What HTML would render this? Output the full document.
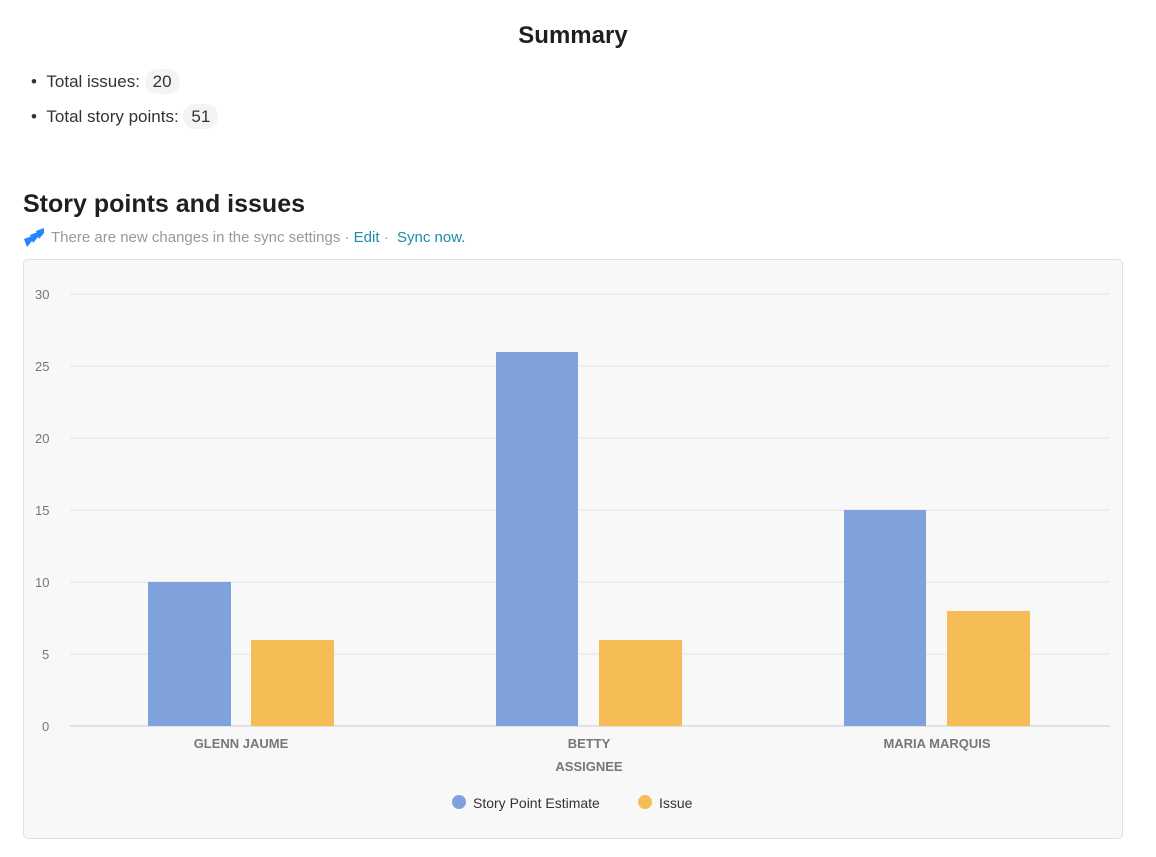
<!DOCTYPE html>
<html><head><style>
body{margin:0;width:1156px;height:857px;background:#fff;font-family:"Liberation Sans",sans-serif;position:relative;overflow:hidden}
.a{position:absolute;white-space:nowrap}
.pill{background:#f4f4f4;border-radius:12px;padding:3px 8px}
</style></head><body>
<div class="a" style="left:0;width:1146px;top:22px;text-align:center;font-size:24px;font-weight:bold;color:#1f1f1f">Summary</div>
<div class="a" style="left:31px;top:72px;font-size:17px;color:#333">•&nbsp;&nbsp;Total issues: <span class="pill">20</span></div>
<div class="a" style="left:31px;top:107px;font-size:17px;color:#333">•&nbsp;&nbsp;Total story points: <span class="pill">51</span></div>
<div class="a" style="left:23px;top:190px;font-size:25px;font-weight:bold;color:#1f1f1f">Story points and issues</div>
<svg class="a" style="left:23px;top:226px" width="22" height="22" viewBox="0 0 22 22"><path d="M1 13l8-3v5l-5 6z M7 9l8-3v5l-5 6z M13 5l8-3v5l-5 6z" fill="#2684ff"/></svg>
<div class="a" style="left:51px;top:229px;font-size:15px;color:#999">There are new changes in the sync settings · <span style="color:#1a8fa0">Edit</span> · &nbsp;<span style="color:#1a8fa0">Sync now.</span></div>
<div class="a" style="left:23px;top:259px;width:1098px;height:578px;background:#f8f8f8;border:1px solid #e0e0e0;border-radius:5px"></div>
<svg class="a" style="left:0;top:0" width="1156" height="857">
<g stroke="#e2e2e2" stroke-width="1">
<line x1="70" x2="1110" y1="294" y2="294"/><line x1="70" x2="1110" y1="366" y2="366"/><line x1="70" x2="1110" y1="438" y2="438"/><line x1="70" x2="1110" y1="510" y2="510"/><line x1="70" x2="1110" y1="582" y2="582"/><line x1="70" x2="1110" y1="654" y2="654"/><line x1="70" x2="1110" y1="726" y2="726" stroke="#ccc"/>
</g>
<g font-size="13" fill="#777" font-family="Liberation Sans">
<text x="35" y="299">30</text><text x="35" y="371">25</text><text x="35" y="443">20</text><text x="35" y="515">15</text><text x="35" y="587">10</text><text x="42" y="659">5</text><text x="42" y="731">0</text>
</g>
<g fill="#7fa1dc"><rect x="148" y="582" width="83" height="144"/><rect x="496" y="352" width="82" height="374"/><rect x="844" y="510" width="82" height="216"/></g>
<g fill="#f6bd57"><rect x="251" y="640" width="83" height="86"/><rect x="599" y="640" width="83" height="86"/><rect x="947" y="611" width="83" height="115"/></g>
<g font-size="13" fill="#777" font-family="Liberation Sans" text-anchor="middle" font-weight="bold">
<text x="241" y="748">GLENN JAUME</text><text x="589" y="748">BETTY</text><text x="937" y="748">MARIA MARQUIS</text><text x="589" y="771">ASSIGNEE</text>
</g>
<circle cx="459" cy="802" r="7" fill="#7fa1dc"/><circle cx="645" cy="802" r="7" fill="#f6bd57"/>
<g font-size="14" fill="#333" font-family="Liberation Sans"><text x="473" y="808">Story Point Estimate</text><text x="659" y="808">Issue</text></g>
</svg>
</body></html>
